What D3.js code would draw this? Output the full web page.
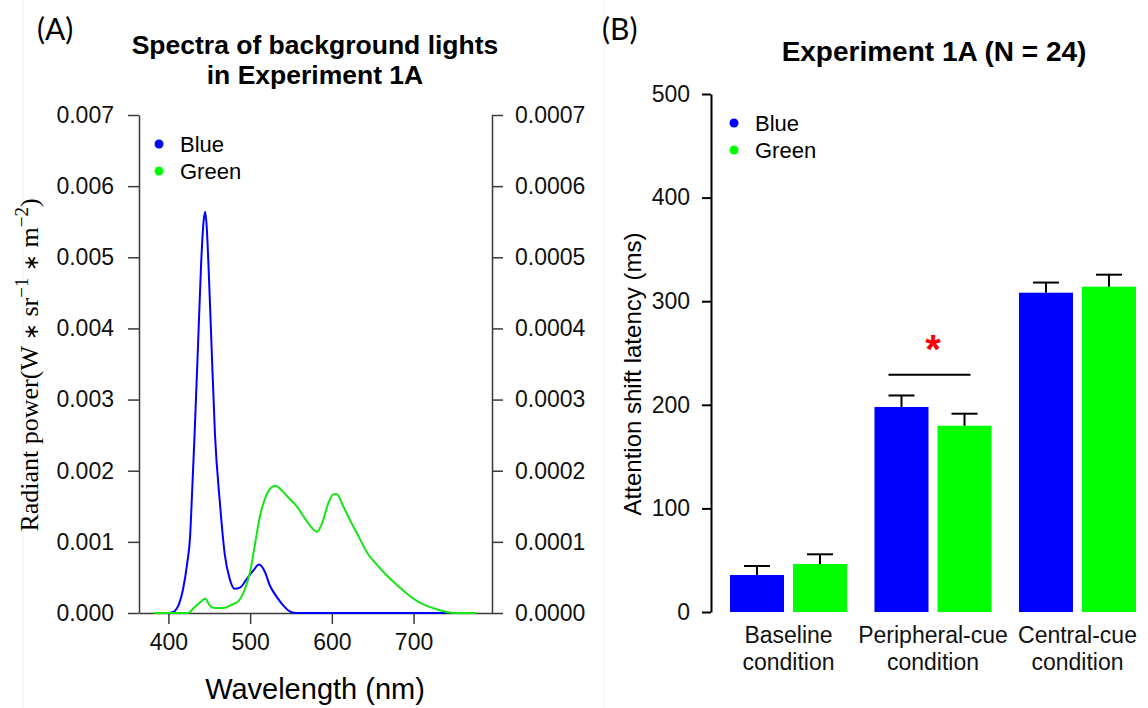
<!DOCTYPE html>
<html>
<head>
<meta charset="utf-8">
<script src="https://cdn.jsdelivr.net/npm/d3@7"></script>
<style>
  body { margin: 0; background: #fff; }
  svg text { font-family: "Liberation Sans", Arial, sans-serif; }
</style>
</head>
<body>
<div id="chart"></div>
<script>
// spectra (panel A)
var wavelengthTicks = [400, 500, 600, 700];
var leftTicks = [0, 0.001, 0.002, 0.003, 0.004, 0.005, 0.006, 0.007];
var rightTicks = [0, 0.0001, 0.0002, 0.0003, 0.0004, 0.0005, 0.0006, 0.0007];
var blueNm = [400, 405, 408, 412, 418, 423, 426.5, 429, 432, 437, 440, 443, 445, 447, 449, 452, 457, 463, 469, 475, 481, 488, 496, 504, 511, 518, 524, 533, 541, 549, 557, 740];
var blueVal = [0, 0.00001, 0.00003, 0.0001, 0.00034, 0.0007, 0.00107, 0.0017, 0.0025, 0.004, 0.0049, 0.0055, 0.00564, 0.0054, 0.0049, 0.004, 0.0025, 0.00155, 0.00082, 0.00048, 0.00034, 0.00036, 0.00048, 0.0006, 0.00068, 0.00058, 0.00039, 0.00022, 0.0001, 0.00002, 0, 0];
var greenNm = [382, 424, 431, 439, 445, 451, 457, 467, 478, 486, 492, 500, 506, 512, 518, 524, 531, 539, 547, 557, 567, 576, 582, 588, 596, 602, 606, 614, 622, 633, 643, 655, 667, 680, 692, 704, 716, 729, 741, 750, 777];
var greenVal = [0, 0, 0.000007, 0.000015, 0.00002, 0.00001, 0.000007, 0.000007, 0.000012, 0.000017, 0.000029, 0.000058, 0.000097, 0.000136, 0.00016, 0.000174, 0.000179, 0.000172, 0.000162, 0.00015, 0.000133, 0.000119, 0.000114, 0.000126, 0.000155, 0.000167, 0.000167, 0.00015, 0.000131, 0.000107, 0.000085, 0.000068, 0.000053, 0.000039, 0.000027, 0.000017, 0.00001, 0.000005, 0.0000015, 0, 0];

// latencies (panel B)
var conditions = ['Baseline', 'Peripheral-cue', 'Central-cue'];
var lights = ['Blue', 'Green'];
var blueMean = [35.7, 197.9, 308.2];
var blueSE = [8.7, 11.1, 9.8];
var greenMean = [46.3, 179.8, 314];
var greenSE = [9.4, 11.6, 11.6];
var latencyTicks = [0, 100, 200, 300, 400, 500];
var sigLevel = 229;

var blueCol = '#0000ff', greenCol = '#00ff00', lineGreen = '#14e614';
var width = 1148, height = 708;

var svg = d3.select('#chart').append('svg')
  .attr('width', width)
  .attr('height', height);
svg.append('rect').attr('width', width).attr('height', height).attr('fill', '#fff');

// faint frame edges of the pasted sub-figures
svg.append('line').attr('x1', 23).attr('x2', 23).attr('y1', 0).attr('y2', height).attr('stroke', '#f0f0f0');
svg.append('line').attr('x1', 604).attr('x2', 604).attr('y1', 0).attr('y2', height).attr('stroke', '#f0f0f0');

// ---------- panel A ----------
var xA = d3.scaleLinear().domain([364, 796]).range([139, 492]);
var yA = d3.scaleLinear().domain([0, 0.007]).range([613, 115]);
var yA2 = d3.scaleLinear().domain([0, 0.0007]).range([613, 115]);

svg.append('text').attr('x', 37).attr('y', 40)
  .style('font-family', 'Lato, "Open Sans", sans-serif').style('font-size', '30px').text('(A)');

svg.append('text').attr('x', 315).attr('y', 54).attr('text-anchor', 'middle')
  .style('font-size', '26.5px').style('font-weight', 'bold').text('Spectra of background lights');
svg.append('text').attr('x', 315).attr('y', 84).attr('text-anchor', 'middle')
  .style('font-size', '26.5px').style('font-weight', 'bold').text('in Experiment 1A');

function styleAxis(g, col, w) {
  g.selectAll('path').attr('stroke', col).attr('stroke-width', w);
  g.selectAll('line').attr('stroke', col).attr('stroke-width', w);
  g.selectAll('text').attr('fill', '#111').style('font-family', '"Liberation Sans", Arial, sans-serif').style('font-size', '23px');
}

var gxA = svg.append('g').attr('transform', 'translate(0,613)')
  .call(d3.axisBottom(xA).tickValues(wavelengthTicks).tickSize(11).tickSizeOuter(0).tickPadding(10));
styleAxis(gxA, '#3a3a3a', 1.5);

var gyA = svg.append('g').attr('transform', 'translate(139,0)')
  .call(d3.axisLeft(yA).tickValues(leftTicks).tickFormat(d3.format('.3f')).tickSize(11).tickSizeOuter(0).tickPadding(14));
styleAxis(gyA, '#3a3a3a', 1.5);

var gyA2 = svg.append('g').attr('transform', 'translate(492,0)')
  .call(d3.axisRight(yA2).tickValues(rightTicks).tickFormat(d3.format('.4f')).tickSize(11).tickSizeOuter(0).tickPadding(12));
styleAxis(gyA2, '#3a3a3a', 1.5);

var blueLine = d3.line().curve(d3.curveMonotoneX)
  .x(function(d, i) { return xA(blueNm[i]); })
  .y(function(d) { return yA(d); });
var greenLine = d3.line().curve(d3.curveMonotoneX)
  .x(function(d, i) { return xA(greenNm[i]); })
  .y(function(d) { return yA2(d); });

svg.append('path').attr('d', blueLine(blueVal)).attr('fill', 'none').attr('stroke', blueCol).attr('stroke-width', 2);
svg.append('path').attr('d', greenLine(greenVal)).attr('fill', 'none').attr('stroke', lineGreen).attr('stroke-width', 2);

svg.append('text').attr('x', 315).attr('y', 699).attr('text-anchor', 'middle')
  .style('font-size', '29px').text('Wavelength (nm)');

var yLabA = svg.append('text').attr('transform', 'translate(38,365) rotate(-90)')
  .attr('text-anchor', 'middle')
  .style('font-family', '"Liberation Serif", "Times New Roman", serif').style('font-size', '26px');
yLabA.append('tspan').text('Radiant power(W ');
yLabA.append('tspan').style('font-size', '20px').text('\u2217');
yLabA.append('tspan').text(' sr');
yLabA.append('tspan').attr('dy', -10).style('font-size', '19px').text('\u22121');
yLabA.append('tspan').attr('dy', 10).text(' ');
yLabA.append('tspan').style('font-size', '20px').text('\u2217');
yLabA.append('tspan').text(' m');
yLabA.append('tspan').attr('dy', -10).style('font-size', '19px').text('\u22122');
yLabA.append('tspan').attr('dy', 10).text(')');

var legA = svg.selectAll('.legA').data(lights).enter().append('g')
  .attr('transform', function(d, i) { return 'translate(159,' + (144 + i * 27) + ')'; });
legA.append('circle').attr('r', 4.5).attr('fill', function(d, i) { return i ? greenCol : blueCol; });
legA.append('text').attr('x', 21).attr('y', 8).style('font-size', '22px').text(function(d) { return d; });

// ---------- panel B ----------
var yB = d3.scaleLinear().domain([0, 500]).range([612, 94]);
var x0 = d3.scaleBand().domain(conditions).range([730, 1136]).paddingInner(0.19).paddingOuter(0);
var x1 = d3.scaleBand().domain(lights).range([0, x0.bandwidth()]).paddingInner(0.143);

svg.append('text').attr('x', 602).attr('y', 40)
  .style('font-family', 'Lato, "Open Sans", sans-serif').style('font-size', '30px').text('(B)');
svg.append('text').attr('x', 934).attr('y', 61).attr('text-anchor', 'middle')
  .style('font-size', '28px').style('font-weight', 'bold').text('Experiment 1A (N = 24)');

var gyB = svg.append('g').attr('transform', 'translate(711,0)')
  .call(d3.axisLeft(yB).tickValues(latencyTicks).tickSize(9).tickSizeOuter(0).tickPadding(12));
styleAxis(gyB, '#000', 2);

svg.append('text').attr('transform', 'translate(641,374) rotate(-90)').attr('text-anchor', 'middle')
  .style('font-size', '24px').text('Attention shift latency (ms)');

var rows = conditions.map(function(c, i) {
  return [
    { cond: c, light: 'Blue', mean: blueMean[i], se: blueSE[i] },
    { cond: c, light: 'Green', mean: greenMean[i], se: greenSE[i] }
  ];
});
var bars = svg.selectAll('.bar').data(d3.merge(rows)).enter().append('g');
bars.append('rect')
  .attr('x', function(d) { return x0(d.cond) + x1(d.light); })
  .attr('y', function(d) { return yB(d.mean); })
  .attr('width', x1.bandwidth())
  .attr('height', function(d) { return yB(0) - yB(d.mean); })
  .attr('fill', function(d) { return d.light === 'Blue' ? blueCol : greenCol; });
bars.append('line')
  .attr('x1', function(d) { return x0(d.cond) + x1(d.light) + x1.bandwidth() / 2; })
  .attr('x2', function(d) { return x0(d.cond) + x1(d.light) + x1.bandwidth() / 2; })
  .attr('y1', function(d) { return yB(d.mean); })
  .attr('y2', function(d) { return yB(d.mean + d.se); })
  .attr('stroke', '#000').attr('stroke-width', 2);
bars.append('line')
  .attr('x1', function(d) { return x0(d.cond) + x1(d.light) + x1.bandwidth() / 2 - 13; })
  .attr('x2', function(d) { return x0(d.cond) + x1(d.light) + x1.bandwidth() / 2 + 13; })
  .attr('y1', function(d) { return yB(d.mean + d.se); })
  .attr('y2', function(d) { return yB(d.mean + d.se); })
  .attr('stroke', '#000').attr('stroke-width', 2);

// category labels
conditions.forEach(function(c) {
  var t = svg.append('text').attr('text-anchor', 'middle').style('font-size', '23px').attr('fill', '#111');
  var cx = x0(c) + x0.bandwidth() / 2;
  t.append('tspan').attr('x', cx).attr('y', 643).text(c);
  t.append('tspan').attr('x', cx).attr('y', 670).text('condition');
});

// significance marker over peripheral-cue pair
var px = x0('Peripheral-cue');
svg.append('line').attr('x1', px + 14).attr('x2', px + 96)
  .attr('y1', yB(sigLevel)).attr('y2', yB(sigLevel)).attr('stroke', '#000').attr('stroke-width', 2);
svg.append('text').attr('x', px + x0.bandwidth() / 2).attr('y', yB(sigLevel) - 12).attr('text-anchor', 'middle')
  .attr('fill', '#ff0000').style('font-size', '40px').style('font-weight', 'bold').text('*');

var legB = svg.selectAll('.legB').data(lights).enter().append('g')
  .attr('transform', function(d, i) { return 'translate(734,' + (123 + i * 27) + ')'; });
legB.append('circle').attr('r', 4.5).attr('fill', function(d, i) { return i ? greenCol : blueCol; });
legB.append('text').attr('x', 21).attr('y', 8).style('font-size', '22px').text(function(d) { return d; });
</script>
</body>
</html>
